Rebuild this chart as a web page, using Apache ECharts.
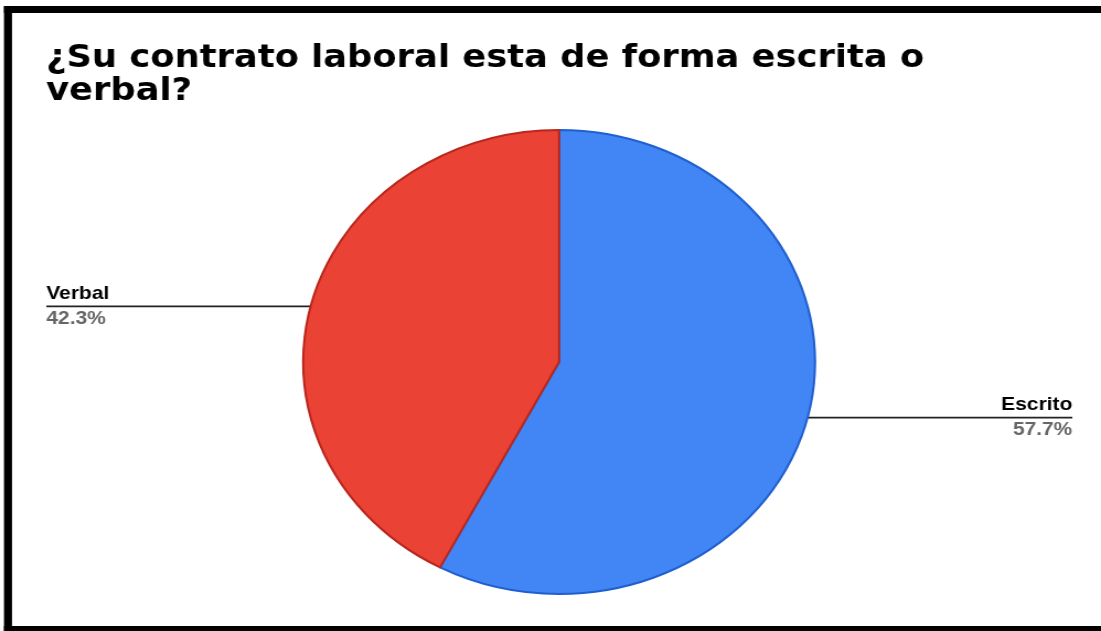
<!DOCTYPE html>
<html>
<head>
<meta charset="utf-8">
<script src="https://cdn.jsdelivr.net/npm/echarts@6/dist/echarts.min.js"></script>
<style>
  html, body { margin: 0; padding: 0; background: #fff; overflow: hidden; }
  /* the reference is stretched sideways, so the whole chart is too */
  #chart { width: 998px; height: 631px; transform: scaleX(1.1032); transform-origin: 0 0; }
</style>
</head>
<body>
<div id="chart"></div>
<script>
const titleText = '¿Su contrato laboral esta de forma escrita o\nverbal?'
const categories = ['Escrito', 'Verbal']
const percents = [57.7, 42.3]
const colors = ['#4285F4', '#EA4335']
const edgeColors = ['#1F5FCF', '#B8261C']

const myChart = echarts.init(document.getElementById('chart'))

const pieData = categories.map((name, i) => ({
  name: name,
  value: percents[i],
  itemStyle: { color: colors[i], borderColor: edgeColors[i] },
  label: { edgeDistance: i === 0 ? 26 : 42 }
}))

const options = {
  animation: false,
  title: {
    text: titleText,
    left: 41.7,
    top: 42,
    padding: 0,
    textStyle: {
      fontFamily: 'DejaVu Sans',
      fontWeight: 'bold',
      fontSize: 32,
      lineHeight: 33,
      color: '#000'
    }
  },
  graphic: [
    { type: 'rect', shape: { x: 3.6, y: 6, width: 1000, height: 7 }, style: { fill: '#000' } },
    { type: 'rect', shape: { x: 3.6, y: 6, width: 7.3, height: 630 }, style: { fill: '#000' } },
    { type: 'rect', shape: { x: 3.6, y: 626, width: 1000, height: 6 }, style: { fill: '#000' } }
  ],
  series: [
    {
      type: 'pie',
      center: [506.8, 362],
      radius: 232,
      startAngle: 90,
      clockwise: true,
      avoidLabelOverlap: false,
      itemStyle: { borderWidth: 2 },
      emphasis: { disabled: true },
      label: {
        alignTo: 'edge',
        minMargin: 5,
        lineHeight: 25,
        formatter: p => '{name|' + p.name + '}\n{pct|' + p.value.toFixed(1) + '%}',
        rich: {
          name: { fontFamily: 'Liberation Sans', fontWeight: 'bold', fontSize: 19, color: '#000', lineHeight: 25 },
          pct: { fontFamily: 'Liberation Sans', fontWeight: 'bold', fontSize: 19, color: '#666', lineHeight: 25 }
        }
      },
      labelLine: {
        length: 0,
        length2: 0,
        lineStyle: { color: '#222', width: 1.6 }
      },
      labelLayout: function (params) {
        const isLeft = params.labelRect.x < myChart.getWidth() / 2
        const points = params.labelLinePoints
        points[2][0] = isLeft ? params.labelRect.x : params.labelRect.x + params.labelRect.width
        return { labelLinePoints: points }
      },
      data: pieData
    }
  ]
}
myChart.setOption(options)
</script>
</body>
</html>
